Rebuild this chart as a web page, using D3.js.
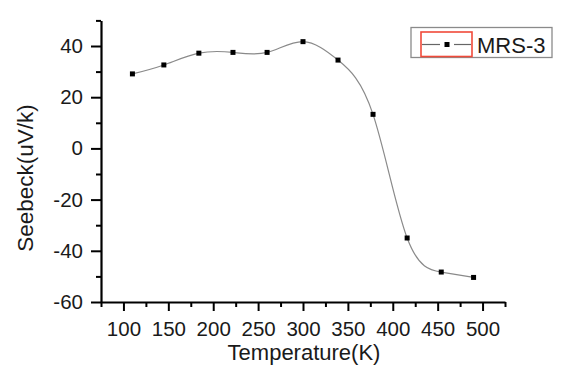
<!DOCTYPE html>
<html>
<head>
<meta charset="utf-8">
<script src="https://cdn.jsdelivr.net/npm/d3@7"></script>
<style>
body{margin:0;background:#fff;}
svg{display:block;font-family:"Liberation Sans",Arial,sans-serif;}
</style>
</head>
<body>
<svg id="chart" width="580" height="376"></svg>
<script>
const temperature = [110, 145, 184, 222, 260, 300, 339, 378, 416, 454, 490];
const seebeck = [29.1, 32.6, 37.2, 37.5, 37.5, 41.7, 34.5, 13.3, -35, -48.3, -50.4];
const xTicks = [100, 150, 200, 250, 300, 350, 400, 450, 500];
const xMinor = [75, 125, 175, 225, 275, 325, 375, 425, 475, 525];
const yTicks = [-60, -40, -20, 0, 20, 40];
const yMinor = [-50, -30, -10, 10, 30, 50];
const seriesName = "MRS-3";

const svg = d3.select("#chart");
const L = 101, R = 505, T = 20.4, B = 302;
const x = d3.scaleLinear().domain([75, 525]).range([L, R]);
const y = d3.scaleLinear().domain([-60, 50]).range([B, T]);

const data = temperature.map((t, i) => ({t, s: seebeck[i]}));
const fmt = d => String(d);

// curve
svg.append("path")
  .datum(data)
  .attr("fill", "none")
  .attr("stroke", "#8a8a8a")
  .attr("stroke-width", 1.2)
  .attr("d", d3.line().x(d => x(d.t)).y(d => y(d.s)).curve(d3.curveNatural));

// markers
svg.append("g").selectAll("rect").data(data).join("rect")
  .attr("x", d => x(d.t) - 2.5).attr("y", d => y(d.s) - 2.5)
  .attr("width", 5).attr("height", 5).attr("fill", "#000");

// axes
svg.append("g").attr("transform", `translate(0,${B})`)
  .call(d3.axisBottom(x).tickValues(xTicks).tickSize(9).tickSizeOuter(0).tickPadding(10).tickFormat(fmt));
svg.append("g").attr("transform", `translate(0,${B})`)
  .call(d3.axisBottom(x).tickValues(xMinor).tickSize(5).tickSizeOuter(0).tickFormat(""))
  .select(".domain").remove();
svg.append("g").attr("transform", `translate(${L},0)`)
  .call(d3.axisLeft(y).tickValues(yTicks).tickSize(10).tickSizeOuter(0).tickPadding(8).tickFormat(fmt));
svg.append("g").attr("transform", `translate(${L},0)`)
  .call(d3.axisLeft(y).tickValues(yMinor).tickSize(5).tickSizeOuter(0).tickFormat(""))
  .select(".domain").remove();

svg.selectAll(".domain").attr("stroke", "#000").attr("stroke-width", 2.2);
svg.selectAll(".tick line").attr("stroke", "#000").attr("stroke-width", 2);
svg.selectAll(".tick text").attr("fill", "#1a1a1a").style("font-size", "20.5px").style("font-family", '"Liberation Sans",Arial,sans-serif');

// axis titles
svg.append("text").attr("x", 304).attr("y", 360).attr("text-anchor", "middle")
  .style("font-size", "22px").attr("fill", "#1a1a1a").text("Temperature(K)");
svg.append("text").attr("transform", "translate(33,178) rotate(-90)").attr("text-anchor", "middle")
  .style("font-size", "22.5px").attr("fill", "#1a1a1a").text("Seebeck(uV/k)");

// legend
const lg = svg.append("g");
lg.append("rect").attr("x", 411).attr("y", 27.5).attr("width", 141).attr("height", 30)
  .attr("fill", "#fff").attr("stroke", "#8a8a8a").attr("stroke-width", 1.3);
lg.append("rect").attr("x", 421).attr("y", 32).attr("width", 51).attr("height", 24.5)
  .attr("fill", "none").attr("stroke", "#f04a3a").attr("stroke-width", 1.6);
lg.append("line").attr("x1", 422).attr("x2", 440).attr("y1", 44.5).attr("y2", 44.5)
  .attr("stroke", "#666").attr("stroke-width", 1.2);
lg.append("line").attr("x1", 454).attr("x2", 471).attr("y1", 44.5).attr("y2", 44.5)
  .attr("stroke", "#666").attr("stroke-width", 1.2);
lg.append("rect").attr("x", 444.5).attr("y", 42).attr("width", 5).attr("height", 5).attr("fill", "#000");
lg.append("text").attr("x", 477).attr("y", 52.5).style("font-size", "22px").attr("fill", "#1a1a1a").text(seriesName);
</script>
</body>
</html>
